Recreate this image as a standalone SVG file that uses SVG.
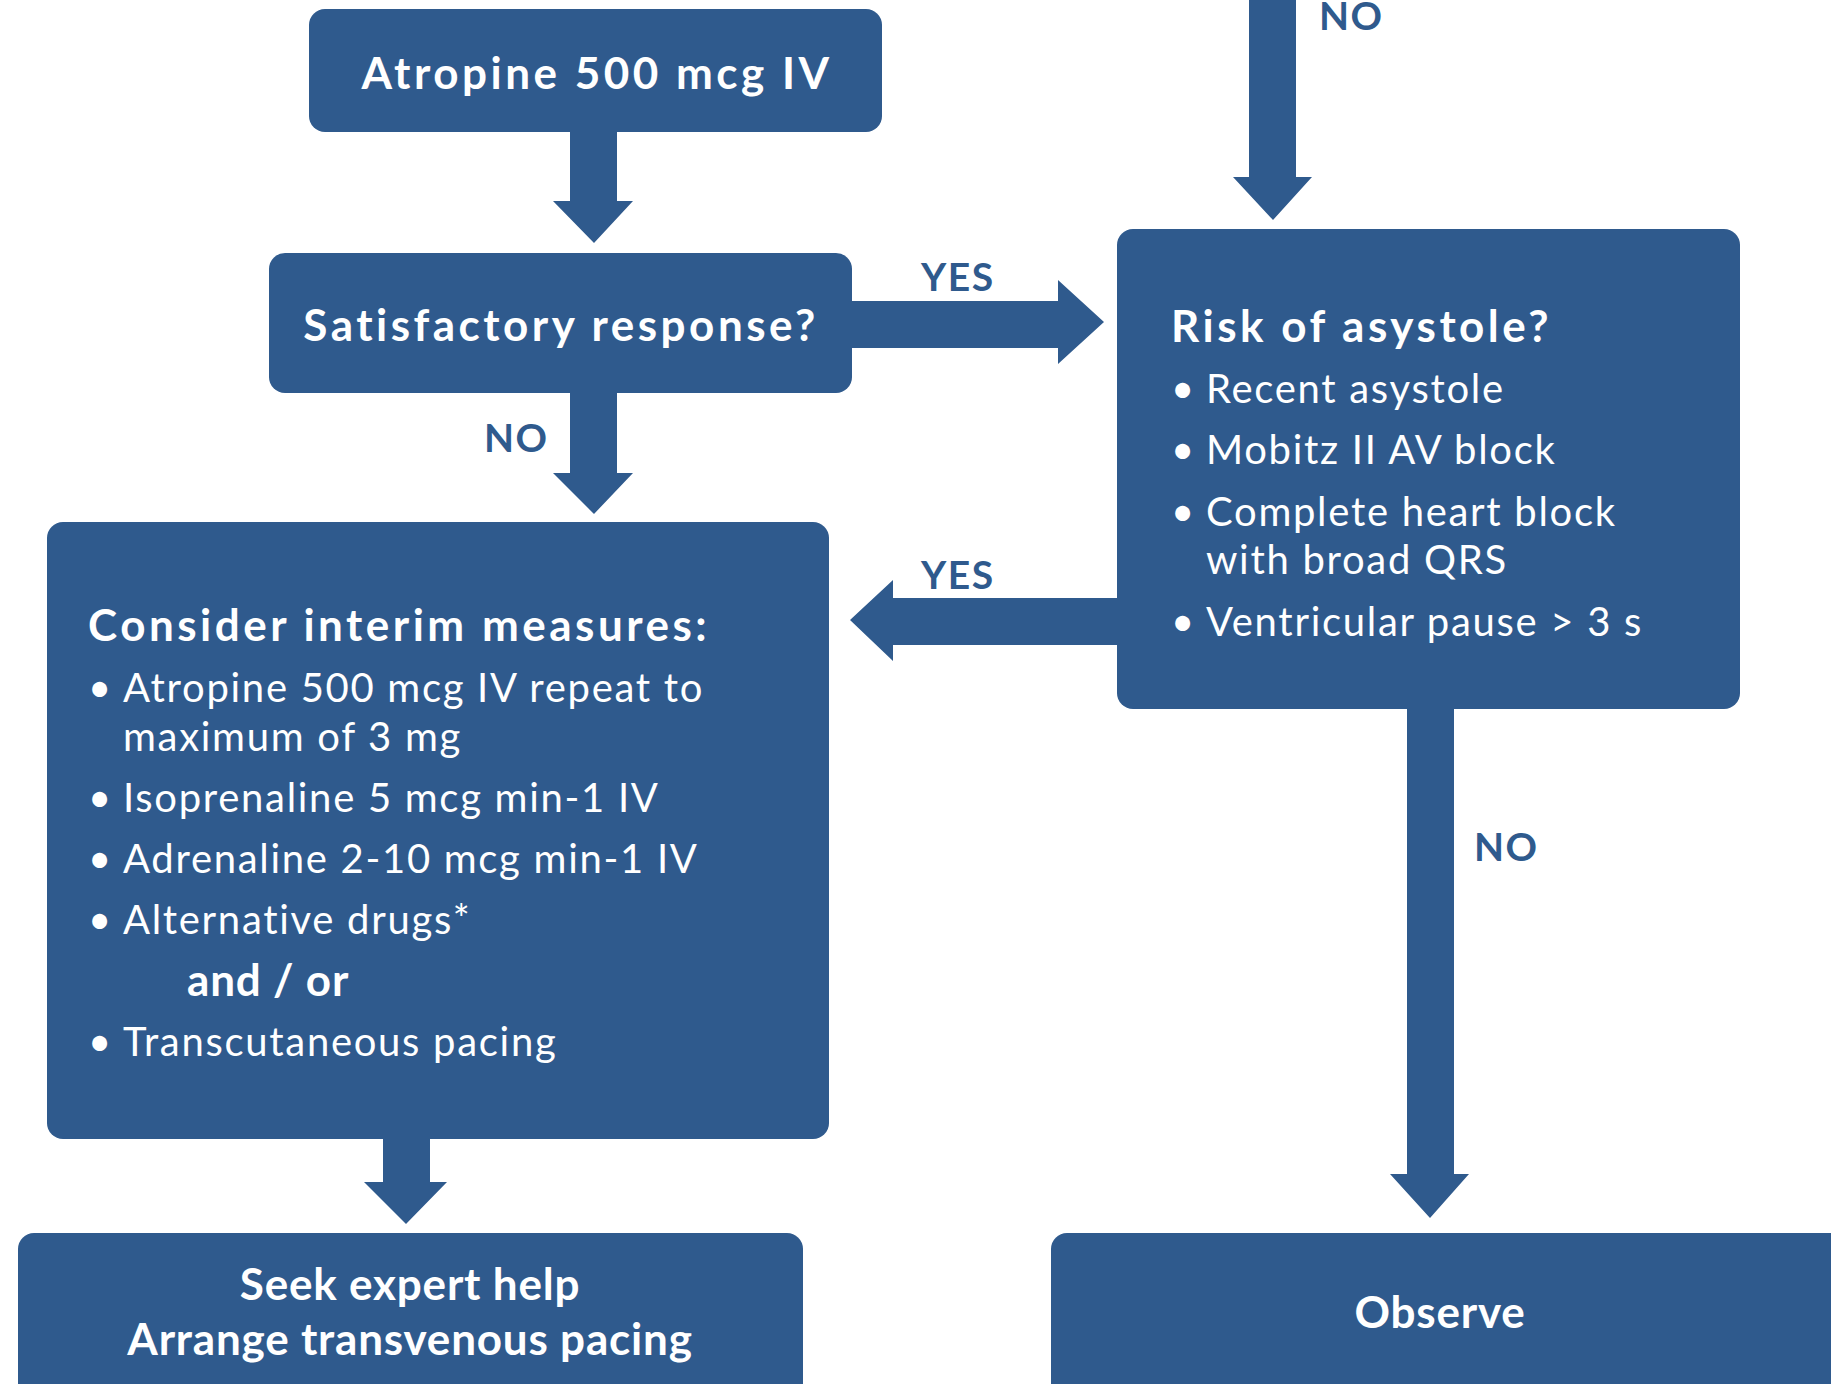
<svg xmlns="http://www.w3.org/2000/svg" width="1831" height="1384" viewBox="0 0 1831 1384">
<style>
.box{fill:#2f5a8d}
.arr{fill:#2f5a8d}
.t{font-family:Lato,"Open Sans","Liberation Sans",sans-serif;fill:#ffffff}
.h{font-size:44px;font-weight:700;letter-spacing:3.5px}
.hb{font-size:44px;font-weight:700;letter-spacing:0.8px}
.i{font-size:40px;font-weight:400;letter-spacing:1.7px}
.lbl{font-family:Lato,"Open Sans","Liberation Sans",sans-serif;font-size:39px;font-weight:700;letter-spacing:1.5px;fill:#2f5a8d}
</style>
<rect width="1831" height="1384" fill="#ffffff"/>
<g id="connectors">
  <polygon class="arr" points="1249,0 1296,0 1296,177 1312,177 1273,220 1233,177 1249,177"/>
  <polygon class="arr" points="570,130 617,130 617,201 633,201 594,243 553,201 570,201"/>
  <polygon class="arr" points="850,301 1058,301 1058,280 1104,322 1058,364 1058,348 850,348"/>
  <polygon class="arr" points="570,390 617,390 617,473 633,473 594,514 553,473 570,473"/>
  <polygon class="arr" points="1120,598 1120,645 893,645 893,661 850,620 893,580 893,598"/>
  <polygon class="arr" points="1407,705 1454,705 1454,1174 1469,1174 1430,1218 1390,1174 1407,1174"/>
  <polygon class="arr" points="383,1135 430,1135 430,1182 447,1182 406,1224 364,1182 383,1182"/>
  <text class="lbl" x="1319" y="30">NO</text>
  <text class="lbl" x="921" y="291">YES</text>
  <text class="lbl" x="484" y="452">NO</text>
  <text class="lbl" x="921" y="589">YES</text>
  <text class="lbl" x="1474" y="861">NO</text>
</g>
<g id="atropine">
  <rect class="box" x="309" y="9" width="573" height="123" rx="16"/>
  <text class="t h" x="597" y="89" text-anchor="middle">Atropine 500 mcg IV</text>
</g>
<g id="satisfactory">
  <rect class="box" x="269" y="253" width="583" height="140" rx="16"/>
  <text class="t h" x="561" y="341" text-anchor="middle">Satisfactory response?</text>
</g>
<g id="risk">
  <rect class="box" x="1117" y="229" width="623" height="480" rx="16"/>
  <text class="t h" x="1171" y="342">Risk of asystole?</text>
  <g class="t i">
    <text x="1171" y="403">•</text><text x="1206" y="403">Recent asystole</text>
    <text x="1171" y="464">•</text><text x="1206" y="464">Mobitz II AV block</text>
    <text x="1171" y="526">•</text><text x="1206" y="526">Complete heart block</text>
    <text x="1206" y="574">with broad QRS</text>
    <text x="1171" y="636">•</text><text x="1206" y="636">Ventricular pause &gt; 3 s</text>
  </g>
</g>
<g id="interim">
  <rect class="box" x="47" y="522" width="782" height="617" rx="16"/>
  <text class="t h" x="88" y="641">Consider interim measures:</text>
  <g class="t i">
    <text x="88" y="702">•</text><text x="123" y="702">Atropine 500 mcg IV repeat to</text>
    <text x="123" y="751">maximum of 3 mg</text>
    <text x="88" y="812">•</text><text x="123" y="812">Isoprenaline 5 mcg min-1 IV</text>
    <text x="88" y="873">•</text><text x="123" y="873">Adrenaline 2-10 mcg min-1 IV</text>
    <text x="88" y="934">•</text><text x="123" y="934">Alternative drugs*</text>
    <text x="88" y="1056">•</text><text x="123" y="1056">Transcutaneous pacing</text>
  </g>
  <text class="t hb" x="187" y="996">and / or</text>
</g>
<g id="seek">
  <rect class="box" x="18" y="1233" width="785" height="175" rx="16"/>
  <text class="t hb" x="410" y="1300" text-anchor="middle">Seek expert help</text>
  <text class="t hb" x="410" y="1355" text-anchor="middle">Arrange transvenous pacing</text>
</g>
<g id="observe">
  <rect class="box" x="1051" y="1233" width="800" height="175" rx="16"/>
  <text class="t hb" x="1440" y="1328" text-anchor="middle">Observe</text>
</g>
</svg>
